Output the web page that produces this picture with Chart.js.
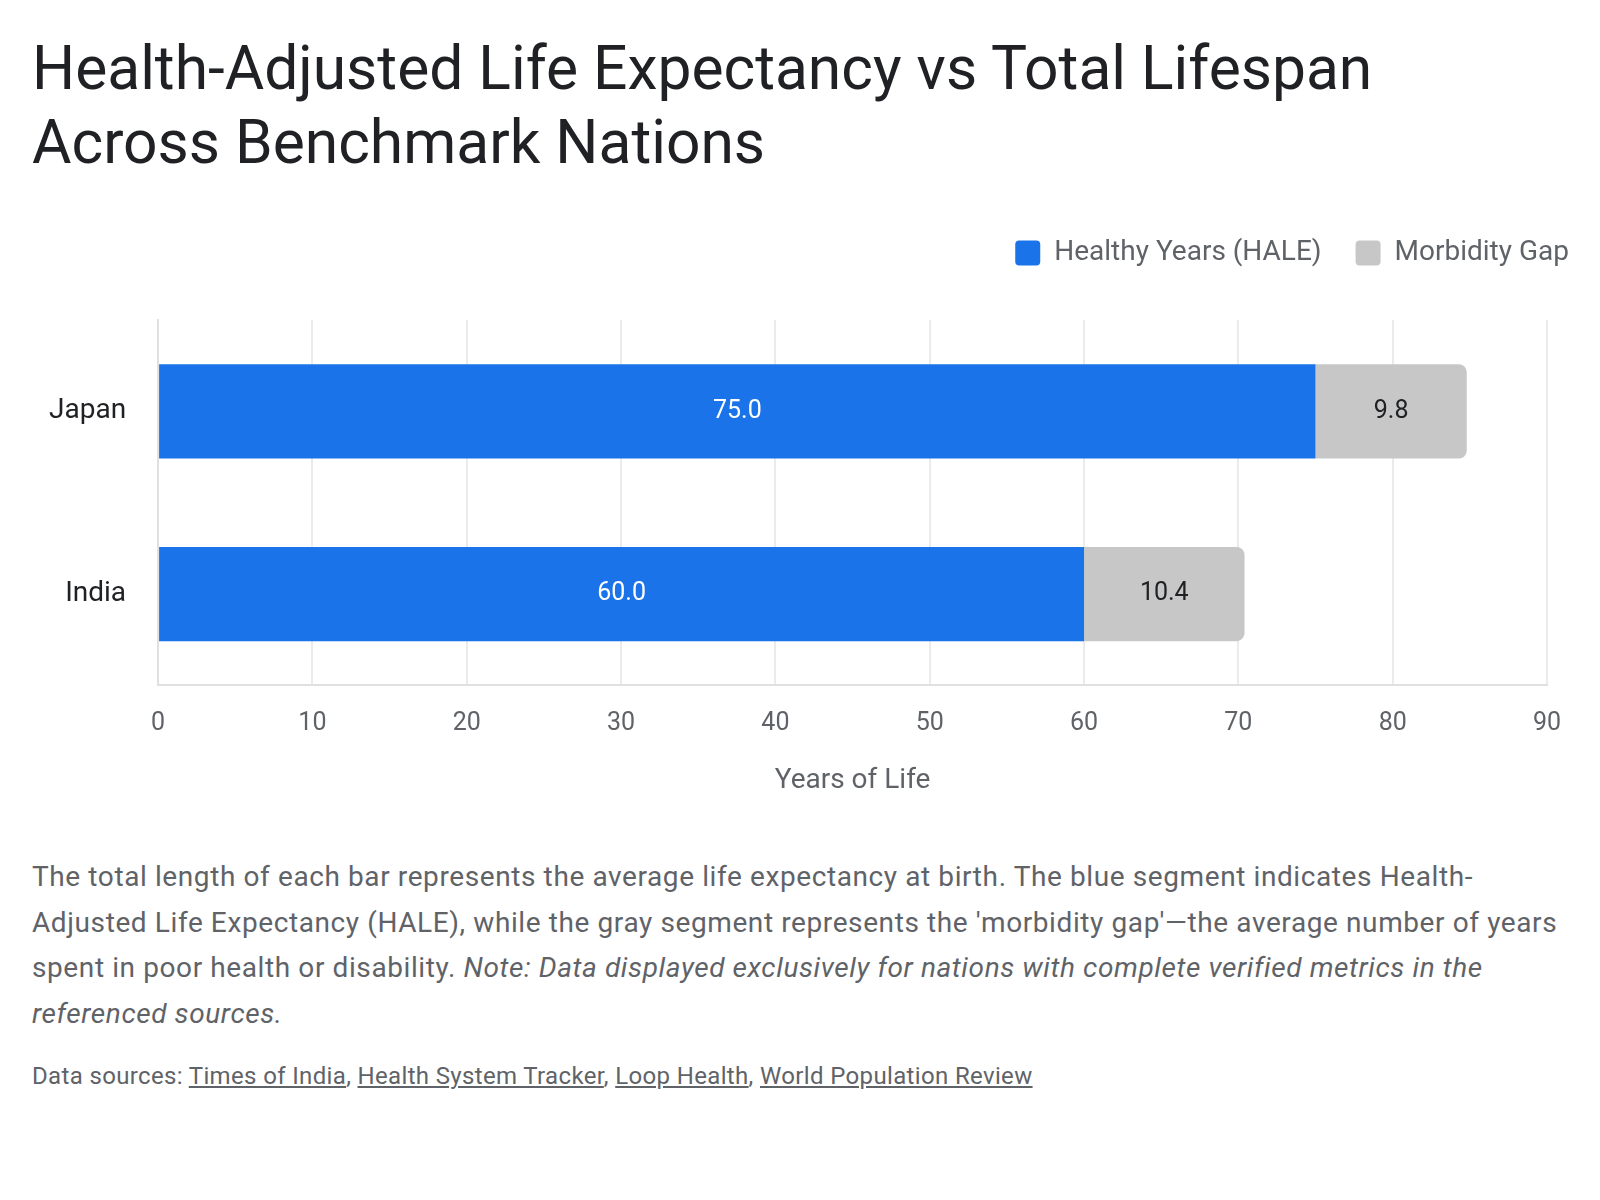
<!DOCTYPE html>
<html>
<head>
<meta charset="utf-8">
<script src="https://cdn.jsdelivr.net/npm/chart.js@4.4.1/dist/chart.umd.min.js"></script>
<style>
  body { margin: 0; background: #fff; font-family: Roboto, "Noto Sans", sans-serif; }
  #wrap { width: 1600px; height: 1200px; position: relative; overflow: hidden; }
  h1 { position: absolute; left: 32px; top: 32px; margin: 0; width: 1450px;
       font-weight: 400; font-size: 60.5px; line-height: 74px; color: #202124; }
  #box { position: absolute; left: 25px; top: 205px; width: 1572px; height: 597px; }
  #note { position: absolute; left: 32px; top: 854px; width: 1540px; margin: 0;
          font-size: 28px; line-height: 45.6px; letter-spacing: 0.6px; color: #5f6368; }
  #src { position: absolute; left: 32px; top: 1061px; margin: 0; font-size: 24px; line-height: 30px;
         letter-spacing: 0.35px; color: #5f6368; }
  #src a { color: #5f6368; }
</style>
</head>
<body>
<div id="wrap">
  <h1>Health-Adjusted Life Expectancy vs Total Lifespan Across Benchmark Nations</h1>
  <div id="box"><canvas id="chart"></canvas></div>
  <p id="note">The total length of each bar represents the average life expectancy at birth. The blue segment indicates Health-Adjusted Life Expectancy (HALE), while the gray segment represents the 'morbidity gap'—the average number of years spent in poor health or disability. <i>Note: Data displayed exclusively for nations with complete verified metrics in the referenced sources.</i></p>
  <p id="src">Data sources: <a href="#">Times of India</a>, <a href="#">Health System Tracker</a>, <a href="#">Loop Health</a>, <a href="#">World Population Review</a></p>
</div>
<script>
const countries = ['Japan', 'India'];
const haleYears = [75.0, 60.0];
const gapYears = [9.8, 10.4];
const xTicks = [0, 10, 20, 30, 40, 50, 60, 70, 80, 90];

// write the value in the middle of each segment
const segmentLabels = {
  id: 'segmentLabels',
  afterDatasetsDraw(chart) {
    const { ctx } = chart;
    ctx.save();
    ctx.font = '25px Roboto';
    ctx.textAlign = 'center';
    ctx.textBaseline = 'middle';
    chart.data.datasets.forEach((ds, i) => {
      chart.getDatasetMeta(i).data.forEach((bar, j) => {
        const mid = (bar.x + bar.base) / 2;
        ctx.fillStyle = i === 0 ? '#ffffff' : '#202124';
        ctx.fillText(ds.data[j].toFixed(1), mid, bar.y);
      });
    });
    ctx.restore();
  }
};

// more room under the legend, and push it to the right edge of the canvas
const legendSpacing = {
  id: 'legendSpacing',
  beforeInit(chart) {
    const fit = chart.legend.fit;
    chart.legend.fit = function () {
      fit.call(this);
      this.height += 43;
    };
  },
  afterLayout(chart) {
    chart.legend.left += 56;
    chart.legend.right += 56;
  }
};

new Chart(document.getElementById('chart'), {
  type: 'bar',
  data: {
    labels: countries,
    datasets: [
      { label: 'Healthy Years (HALE)', data: haleYears, backgroundColor: '#1a73e8', borderRadius: 0 },
      { label: 'Morbidity Gap', data: gapYears, backgroundColor: '#c6c7c6', borderRadius: 8, borderSkipped: 'start' }
    ]
  },
  options: {
    indexAxis: 'y',
    responsive: true,
    maintainAspectRatio: false,
    animation: false,
    datasets: { bar: { barPercentage: 0.6, categoryPercentage: 0.86 } },
    layout: { padding: { top: 0, right: 50, bottom: 0, left: 0 } },
    plugins: {
      legend: {
        position: 'top',
        align: 'end',
        labels: {
          boxWidth: 25, boxHeight: 25,
          useBorderRadius: true,
          borderRadius: 4,
          padding: 34,
          color: '#5f6368',
          font: { family: 'Roboto', size: 28 }
        }
      },
      tooltip: { enabled: false }
    },
    scales: {
      x: {
        stacked: true,
        min: 0, max: 90,
        afterBuildTicks: (axis) => { axis.ticks = xTicks.map(v => ({ value: v })); },
        grid: { color: '#ebebeb', lineWidth: 2, tickLength: 0 },
        border: { color: '#e0e0e0', width: 2 },
        ticks: { color: '#5f6368', font: { family: 'Roboto', size: 25 }, padding: 23 },
        title: { display: true, text: 'Years of Life', color: '#5f6368', font: { family: 'Roboto', size: 28 }, padding: { top: 3, bottom: 4 } }
      },
      y: {
        stacked: true,
        grid: { display: false },
        border: { color: '#e0e0e0', width: 2 },
        ticks: { color: '#202124', font: { family: 'Roboto', size: 28 }, padding: 24 }
      }
    }
  },
  plugins: [segmentLabels, legendSpacing]
});
</script>
</body>
</html>
